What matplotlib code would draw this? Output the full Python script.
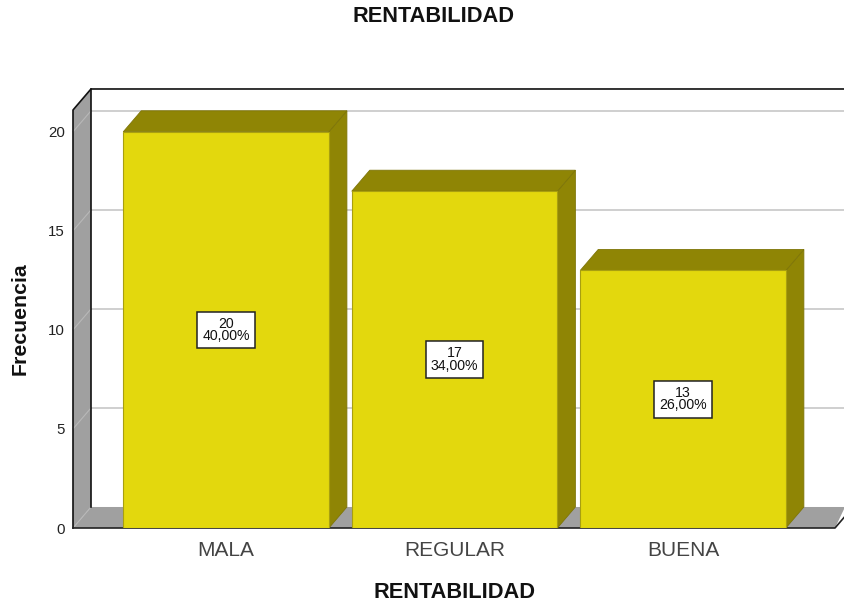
import matplotlib
matplotlib.use('Agg')
import matplotlib.pyplot as plt
from matplotlib.patches import Polygon

categories = ['MALA', 'REGULAR', 'BUENA']
counts = [20, 17, 13]
percents = ['40,00%', '34,00%', '26,00%']
y_ticks = [0, 5, 10, 15, 20]

FRONT = '#E3D80D'
DARK = '#8F8505'
WALL = '#A0A0A0'
GRID = '#CFCFCF'
W, H = 845, 604


def create_plot():
    plt.rc('font', family=['Liberation Sans', 'DejaVu Sans'])
    fig = plt.figure(figsize=(W / 100, H / 100), dpi=100)
    ax = fig.add_axes([73 / W, (H - 528) / H, (835 - 73) / W, (528 - 110) / H])
    xmin, xmax = -0.67, 2.665
    ymin, ymax = 0, 21.1
    ax.set_xlim(xmin, xmax)
    ax.set_ylim(ymin, ymax)
    for s in ax.spines.values():
        s.set_visible(False)

    # depth of the fake 3d box, in data units
    dx = 18 / 228.5
    dy = 21 / 19.8
    bw = 0.9
    top = ymax + dy
    over = 10 / 228.5

    # left wall and floor
    ax.add_patch(Polygon([(xmin, 0), (xmin + dx, dy), (xmin + dx, top), (xmin, ymax)],
                         fc=WALL, ec='none', clip_on=False, zorder=1))
    ax.add_patch(Polygon([(xmin, 0), (xmin + dx, dy), (xmax + over, dy), (xmax, 0)],
                         fc=WALL, ec='none', clip_on=False, zorder=1))

    # grid on back wall and the faint diagonal on the side wall
    for v in y_ticks[1:]:
        ax.plot([xmin + dx, xmax + over], [v + dy, v + dy], color=GRID, lw=1.4,
                clip_on=False, zorder=2)
    for v in y_ticks:
        ax.plot([xmin, xmin + dx], [v, v + dy], color='#B8B8B8', lw=0.8,
                clip_on=False, zorder=2)

    # frame
    ax.plot([xmin, xmin, xmin + dx, xmax + over], [0, ymax, top, top], color='#111111',
            lw=1.2, clip_on=False, zorder=3)
    ax.plot([xmin + dx, xmin + dx], [dy, top], color='#111111', lw=1.2, clip_on=False, zorder=3)
    ax.plot([xmin, xmax, xmax + over], [0, 0, dy * 10 / 18], color='#222222', lw=1.2,
            clip_on=False, zorder=3)

    for i, c in enumerate(counts):
        l, r = i - bw / 2, i + bw / 2
        ax.add_patch(Polygon([(r, 0), (r + dx, dy), (r + dx, c + dy), (r, c)], fc=DARK,
                             ec='#7E7508', lw=0.6, clip_on=False, zorder=4))
        ax.add_patch(Polygon([(l, c), (l + dx, c + dy), (r + dx, c + dy), (r, c)], fc=DARK,
                             ec='#7E7508', lw=0.6, clip_on=False, zorder=4))
        ax.bar(i, c, width=bw, color=FRONT, edgecolor='#A89F10', linewidth=0.8, zorder=5)
        ax.text(i, c / 2, '%d\n%s' % (c, percents[i]), ha='center', va='center', fontsize=10.2,
                linespacing=0.85, color='#111111', zorder=6,
                bbox=dict(boxstyle='square,pad=0.36', fc='white', ec='#222222', lw=1.1))

    ax.set_xticks(range(len(categories)))
    ax.set_xticklabels(categories, fontsize=15, color='#444444')
    ax.set_yticks(y_ticks)
    ax.set_yticklabels(y_ticks, fontsize=10.8, color='#222222')
    ax.tick_params(axis='both', length=0)
    ax.tick_params(axis='x', pad=9.5)
    ax.tick_params(axis='y', pad=6)

    fig.text(433 / W, 1 - 17 / H, 'RENTABILIDAD', ha='center', va='center', fontsize=15.7,
             fontweight='bold', color='#111111')
    fig.text(454.5 / W, 1 - 593 / H, 'RENTABILIDAD', ha='center', va='center', fontsize=15.7,
             fontweight='bold', color='#111111')
    fig.text(20 / W, 1 - 319 / H, 'Frecuencia', rotation=90, ha='center', va='center',
             fontsize=15.3, fontweight='bold', color='#111111')

    fig.savefig('out.png', dpi=100)


if __name__ == '__main__':
    create_plot()
